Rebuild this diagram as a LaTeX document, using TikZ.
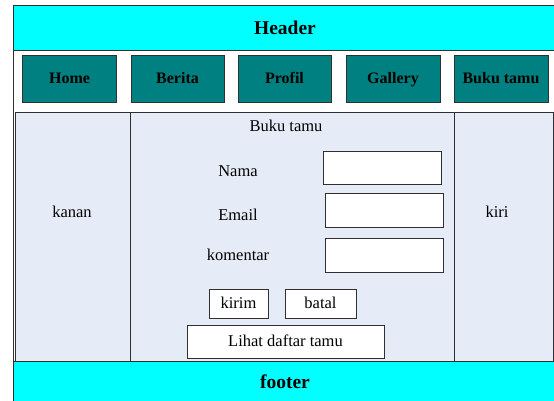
\documentclass[tikz,border=0pt]{standalone}
\usepackage{fontspec}
\setmainfont{Liberation Serif}
\definecolor{cyanbg}{HTML}{00FFFF}
\definecolor{tealbtn}{HTML}{008080}
\definecolor{cellbg}{HTML}{E6ECF7}
\definecolor{edge}{HTML}{303030}
\tikzset{
  box/.style={draw=edge, line width=0.9pt, inner sep=0pt, anchor=center},
  band/.style={box, fill=cyanbg},
  navbtn/.style={box, fill=tealbtn, font=\fontsize{16}{18}\selectfont\bfseries, text height=12pt, text depth=2.5pt},
  cell/.style={box, fill=cellbg, line width=0.8pt},
  field/.style={box, fill=white, line width=0.8pt},
  txt/.style={inner sep=0pt, anchor=center, font=\fontsize{16.5}{18}\selectfont, text height=12.5pt, text depth=2.5pt},
  bigtxt/.style={inner sep=0pt, anchor=center, font=\fontsize{19.5}{22}\selectfont\bfseries, text height=14.5pt, text depth=3.5pt},
}
\begin{document}
\begin{tikzpicture}[x=1pt,y=-1pt]
\useasboundingbox (0,0) rectangle (554,400);
\clip (0,0) rectangle (554,400);
% outer table
\node[box, fill=white, minimum width=544pt, minimum height=410pt] (outer) at (285,210) {};
% header
\node[band, minimum width=544pt, minimum height=45pt] (header) at (285,27.5) {};
\node[bigtxt] (headert) at (285,28.5) {Header};
% navigation
\node[navbtn, minimum width=94pt, minimum height=47pt] (home) at (69.5,78.5) {Home};
\node[navbtn, minimum width=93pt, minimum height=47pt] (berita) at (177.5,78.5) {Berita};
\node[navbtn, minimum width=93pt, minimum height=47pt] (profil) at (284.5,78.5) {Profil};
\node[navbtn, minimum width=94pt, minimum height=47pt] (gallery) at (393,78.5) {Gallery};
\node[navbtn, minimum width=94pt, minimum height=47pt] (bukutamu) at (501,78.5) {Buku tamu};
% content cells
\node[cell, minimum width=114.5pt, minimum height=249pt] (kanan) at (72.75,236.5) {};
\node[cell, minimum width=324pt, minimum height=249pt] (tengah) at (292,236.5) {};
\node[cell, minimum width=99pt, minimum height=249pt] (kiri) at (503.5,236.5) {};
\node[txt] (kanant) at (72,212) {kanan};
\node[txt] (kirit) at (497,212) {kiri};
% form
\node[txt] (judul) at (286,126) {Buku tamu};
\node[txt] (nama) at (238,171) {Nama};
\node[txt] (email) at (238,215) {Email};
\node[txt] (komentar) at (238,255) {komentar};
\node[field, minimum width=118pt, minimum height=33pt] (fnama) at (382,167.5) {};
\node[field, minimum width=118pt, minimum height=34pt] (femail) at (384,210) {};
\node[field, minimum width=118pt, minimum height=34pt] (fkomentar) at (384,255) {};
\node[field, txt, minimum width=59pt, minimum height=29pt] (kirim) at (238.5,303.5) {kirim};
\node[field, txt, minimum width=71pt, minimum height=29pt] (batal) at (320.5,303.5) {batal};
\node[field, txt, minimum width=197pt, minimum height=33pt] (lihat) at (285.5,341.5) {Lihat daftar tamu};
% footer
\node[band, minimum width=544pt, minimum height=50pt] (footer) at (285,386) {};
\node[bigtxt] (footert) at (285,383) {footer};
\end{tikzpicture}
\end{document}
